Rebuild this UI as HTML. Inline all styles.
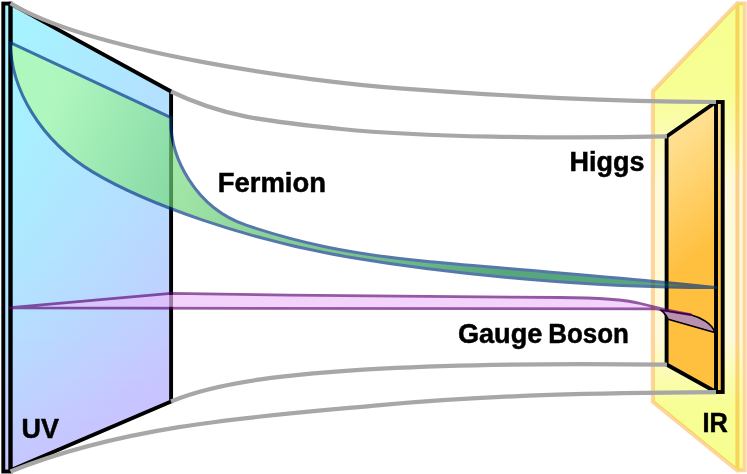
<!DOCTYPE html>
<html><head><meta charset="utf-8"><title>Warped extra dimension</title>
<style>
html,body{margin:0;padding:0;background:#fff;}
svg{display:block}
text{font-family:"Liberation Sans",sans-serif;font-weight:bold;fill:#000;stroke:#000;stroke-width:0.5px}
</style></head><body>
<svg width="747" height="474" viewBox="0 0 747 474">
<defs>
<linearGradient id="ir" gradientUnits="userSpaceOnUse" x1="0" y1="0" x2="0" y2="474">
<stop offset="0" stop-color="#f6ff90"/><stop offset="0.19" stop-color="#f7fe94"/><stop offset="0.29" stop-color="#fbfcb4"/><stop offset="0.39" stop-color="#fff9dc"/><stop offset="0.71" stop-color="#fff9dc"/><stop offset="0.79" stop-color="#fbfcb2"/><stop offset="0.86" stop-color="#f7fe94"/><stop offset="1" stop-color="#f6ff90"/></linearGradient>
<linearGradient id="br" gradientUnits="userSpaceOnUse" x1="667" y1="125" x2="740.8" y2="223.4">
<stop offset="0" stop-color="#ffe49b"/><stop offset="1" stop-color="#ffc040"/></linearGradient>
<linearGradient id="fg" gradientUnits="userSpaceOnUse" x1="60" y1="90" x2="505" y2="273">
<stop offset="0" stop-color="#b2fc9d"/><stop offset="0.263" stop-color="#78de7d"/><stop offset="1" stop-color="#027b3a"/></linearGradient>
<clipPath id="cuv"><rect x="0" y="1.65" width="200" height="471.8"/></clipPath>
<clipPath id="cpan"><rect x="600" y="1.2" width="147" height="471.3"/></clipPath>
<clipPath id="cir"><rect x="600" y="100.15" width="147" height="293.7"/></clipPath>
<linearGradient id="u0" gradientUnits="userSpaceOnUse" x1="11" y1="0" x2="171" y2="0"><stop offset="0.00" stop-color="#a6f3ff"/><stop offset="0.25" stop-color="#a9eeff"/><stop offset="0.50" stop-color="#adeaff"/><stop offset="0.75" stop-color="#b0e5ff"/><stop offset="1.00" stop-color="#b4e0ff"/></linearGradient>
<linearGradient id="u1" gradientUnits="userSpaceOnUse" x1="11" y1="0" x2="171" y2="0"><stop offset="0.00" stop-color="#a6f3ff"/><stop offset="0.25" stop-color="#a9eeff"/><stop offset="0.50" stop-color="#adeaff"/><stop offset="0.75" stop-color="#b0e5ff"/><stop offset="1.00" stop-color="#b4e0ff"/></linearGradient>
<linearGradient id="u2" gradientUnits="userSpaceOnUse" x1="11" y1="0" x2="171" y2="0"><stop offset="0.00" stop-color="#a6f3ff"/><stop offset="0.25" stop-color="#a9efff"/><stop offset="0.50" stop-color="#adeaff"/><stop offset="0.75" stop-color="#b0e5ff"/><stop offset="1.00" stop-color="#b4e0ff"/></linearGradient>
<linearGradient id="u3" gradientUnits="userSpaceOnUse" x1="11" y1="0" x2="171" y2="0"><stop offset="0.00" stop-color="#a6f3ff"/><stop offset="0.25" stop-color="#a9efff"/><stop offset="0.50" stop-color="#adeaff"/><stop offset="0.75" stop-color="#b0e5ff"/><stop offset="1.00" stop-color="#b4e0ff"/></linearGradient>
<linearGradient id="u4" gradientUnits="userSpaceOnUse" x1="11" y1="0" x2="171" y2="0"><stop offset="0.00" stop-color="#a6f3ff"/><stop offset="0.25" stop-color="#a9efff"/><stop offset="0.50" stop-color="#adeaff"/><stop offset="0.75" stop-color="#b0e5ff"/><stop offset="1.00" stop-color="#b4e0ff"/></linearGradient>
<linearGradient id="u5" gradientUnits="userSpaceOnUse" x1="11" y1="0" x2="171" y2="0"><stop offset="0.00" stop-color="#a6f3ff"/><stop offset="0.25" stop-color="#a9eeff"/><stop offset="0.50" stop-color="#adeaff"/><stop offset="0.75" stop-color="#b0e5ff"/><stop offset="1.00" stop-color="#b4e0ff"/></linearGradient>
<linearGradient id="u6" gradientUnits="userSpaceOnUse" x1="11" y1="0" x2="171" y2="0"><stop offset="0.00" stop-color="#a6f3ff"/><stop offset="0.25" stop-color="#a9eeff"/><stop offset="0.50" stop-color="#adeaff"/><stop offset="0.75" stop-color="#b0e5ff"/><stop offset="1.00" stop-color="#b4e0ff"/></linearGradient>
<linearGradient id="u7" gradientUnits="userSpaceOnUse" x1="11" y1="0" x2="171" y2="0"><stop offset="0.00" stop-color="#a6f3ff"/><stop offset="0.25" stop-color="#a9eeff"/><stop offset="0.50" stop-color="#ade9ff"/><stop offset="0.75" stop-color="#b0e5ff"/><stop offset="1.00" stop-color="#b4e0ff"/></linearGradient>
<linearGradient id="u8" gradientUnits="userSpaceOnUse" x1="11" y1="0" x2="171" y2="0"><stop offset="0.00" stop-color="#a6f3ff"/><stop offset="0.25" stop-color="#aaeeff"/><stop offset="0.50" stop-color="#ade9ff"/><stop offset="0.75" stop-color="#b1e4ff"/><stop offset="1.00" stop-color="#b4dfff"/></linearGradient>
<linearGradient id="u9" gradientUnits="userSpaceOnUse" x1="11" y1="0" x2="171" y2="0"><stop offset="0.00" stop-color="#a6f3ff"/><stop offset="0.25" stop-color="#aaeeff"/><stop offset="0.50" stop-color="#ade9ff"/><stop offset="0.75" stop-color="#b1e4ff"/><stop offset="1.00" stop-color="#b4dfff"/></linearGradient>
<linearGradient id="u10" gradientUnits="userSpaceOnUse" x1="11" y1="0" x2="171" y2="0"><stop offset="0.00" stop-color="#a7f2ff"/><stop offset="0.25" stop-color="#aaedff"/><stop offset="0.50" stop-color="#aee9ff"/><stop offset="0.75" stop-color="#b1e4ff"/><stop offset="1.00" stop-color="#b5dfff"/></linearGradient>
<linearGradient id="u11" gradientUnits="userSpaceOnUse" x1="11" y1="0" x2="171" y2="0"><stop offset="0.00" stop-color="#a7f2ff"/><stop offset="0.25" stop-color="#aaedff"/><stop offset="0.50" stop-color="#aee8ff"/><stop offset="0.75" stop-color="#b1e3ff"/><stop offset="1.00" stop-color="#b5dfff"/></linearGradient>
<linearGradient id="u12" gradientUnits="userSpaceOnUse" x1="11" y1="0" x2="171" y2="0"><stop offset="0.00" stop-color="#a7f1ff"/><stop offset="0.25" stop-color="#abedff"/><stop offset="0.50" stop-color="#aee8ff"/><stop offset="0.75" stop-color="#b2e3ff"/><stop offset="1.00" stop-color="#b5deff"/></linearGradient>
<linearGradient id="u13" gradientUnits="userSpaceOnUse" x1="11" y1="0" x2="171" y2="0"><stop offset="0.00" stop-color="#a7f1ff"/><stop offset="0.25" stop-color="#abecff"/><stop offset="0.50" stop-color="#aee7ff"/><stop offset="0.75" stop-color="#b2e3ff"/><stop offset="1.00" stop-color="#b5deff"/></linearGradient>
<linearGradient id="u14" gradientUnits="userSpaceOnUse" x1="11" y1="0" x2="171" y2="0"><stop offset="0.00" stop-color="#a8f1ff"/><stop offset="0.25" stop-color="#abecff"/><stop offset="0.50" stop-color="#afe7ff"/><stop offset="0.75" stop-color="#b2e2ff"/><stop offset="1.00" stop-color="#b6ddff"/></linearGradient>
<linearGradient id="u15" gradientUnits="userSpaceOnUse" x1="11" y1="0" x2="171" y2="0"><stop offset="0.00" stop-color="#a8f0ff"/><stop offset="0.25" stop-color="#acebff"/><stop offset="0.50" stop-color="#afe6ff"/><stop offset="0.75" stop-color="#b3e1ff"/><stop offset="1.00" stop-color="#b6ddff"/></linearGradient>
<linearGradient id="u16" gradientUnits="userSpaceOnUse" x1="11" y1="0" x2="171" y2="0"><stop offset="0.00" stop-color="#a9efff"/><stop offset="0.25" stop-color="#acebff"/><stop offset="0.50" stop-color="#b0e6ff"/><stop offset="0.75" stop-color="#b3e1ff"/><stop offset="1.00" stop-color="#b7dcff"/></linearGradient>
<linearGradient id="u17" gradientUnits="userSpaceOnUse" x1="11" y1="0" x2="171" y2="0"><stop offset="0.00" stop-color="#a9efff"/><stop offset="0.25" stop-color="#adeaff"/><stop offset="0.50" stop-color="#b0e5ff"/><stop offset="0.75" stop-color="#b4e0ff"/><stop offset="1.00" stop-color="#b7dbff"/></linearGradient>
<linearGradient id="u18" gradientUnits="userSpaceOnUse" x1="11" y1="0" x2="171" y2="0"><stop offset="0.00" stop-color="#aaeeff"/><stop offset="0.25" stop-color="#ade9ff"/><stop offset="0.50" stop-color="#b1e4ff"/><stop offset="0.75" stop-color="#b4dfff"/><stop offset="1.00" stop-color="#b8dbff"/></linearGradient>
<linearGradient id="u19" gradientUnits="userSpaceOnUse" x1="11" y1="0" x2="171" y2="0"><stop offset="0.00" stop-color="#aaedff"/><stop offset="0.25" stop-color="#aee8ff"/><stop offset="0.50" stop-color="#b1e4ff"/><stop offset="0.75" stop-color="#b5dfff"/><stop offset="1.00" stop-color="#b8daff"/></linearGradient>
<linearGradient id="u20" gradientUnits="userSpaceOnUse" x1="11" y1="0" x2="171" y2="0"><stop offset="0.00" stop-color="#abecff"/><stop offset="0.25" stop-color="#aee8ff"/><stop offset="0.50" stop-color="#b2e3ff"/><stop offset="0.75" stop-color="#b5deff"/><stop offset="1.00" stop-color="#b9d9ff"/></linearGradient>
<linearGradient id="u21" gradientUnits="userSpaceOnUse" x1="11" y1="0" x2="171" y2="0"><stop offset="0.00" stop-color="#abecff"/><stop offset="0.25" stop-color="#afe7ff"/><stop offset="0.50" stop-color="#b2e2ff"/><stop offset="0.75" stop-color="#b6ddff"/><stop offset="1.00" stop-color="#b9d8ff"/></linearGradient>
<linearGradient id="u22" gradientUnits="userSpaceOnUse" x1="11" y1="0" x2="171" y2="0"><stop offset="0.00" stop-color="#acebff"/><stop offset="0.25" stop-color="#b0e6ff"/><stop offset="0.50" stop-color="#b3e1ff"/><stop offset="0.75" stop-color="#b7dcff"/><stop offset="1.00" stop-color="#bad7ff"/></linearGradient>
<linearGradient id="u23" gradientUnits="userSpaceOnUse" x1="11" y1="0" x2="171" y2="0"><stop offset="0.00" stop-color="#adeaff"/><stop offset="0.25" stop-color="#b0e5ff"/><stop offset="0.50" stop-color="#b4e0ff"/><stop offset="0.75" stop-color="#b7dbff"/><stop offset="1.00" stop-color="#bbd6ff"/></linearGradient>
<linearGradient id="u24" gradientUnits="userSpaceOnUse" x1="11" y1="0" x2="171" y2="0"><stop offset="0.00" stop-color="#ade9ff"/><stop offset="0.25" stop-color="#b1e4ff"/><stop offset="0.50" stop-color="#b4dfff"/><stop offset="0.75" stop-color="#b8daff"/><stop offset="1.00" stop-color="#bbd5ff"/></linearGradient>
<linearGradient id="u25" gradientUnits="userSpaceOnUse" x1="11" y1="0" x2="171" y2="0"><stop offset="0.00" stop-color="#aee8ff"/><stop offset="0.25" stop-color="#b2e3ff"/><stop offset="0.50" stop-color="#b5deff"/><stop offset="0.75" stop-color="#b9d9ff"/><stop offset="1.00" stop-color="#bcd4ff"/></linearGradient>
<linearGradient id="u26" gradientUnits="userSpaceOnUse" x1="11" y1="0" x2="171" y2="0"><stop offset="0.00" stop-color="#afe7ff"/><stop offset="0.25" stop-color="#b2e2ff"/><stop offset="0.50" stop-color="#b6ddff"/><stop offset="0.75" stop-color="#b9d8ff"/><stop offset="1.00" stop-color="#bdd3ff"/></linearGradient>
<linearGradient id="u27" gradientUnits="userSpaceOnUse" x1="11" y1="0" x2="171" y2="0"><stop offset="0.00" stop-color="#b0e5ff"/><stop offset="0.25" stop-color="#b3e1ff"/><stop offset="0.50" stop-color="#b7dcff"/><stop offset="0.75" stop-color="#bad7ff"/><stop offset="1.00" stop-color="#bed2ff"/></linearGradient>
<linearGradient id="u28" gradientUnits="userSpaceOnUse" x1="11" y1="0" x2="171" y2="0"><stop offset="0.00" stop-color="#b1e4ff"/><stop offset="0.25" stop-color="#b4dfff"/><stop offset="0.50" stop-color="#b8dbff"/><stop offset="0.75" stop-color="#bbd6ff"/><stop offset="1.00" stop-color="#bfd1ff"/></linearGradient>
<linearGradient id="u29" gradientUnits="userSpaceOnUse" x1="11" y1="0" x2="171" y2="0"><stop offset="0.00" stop-color="#b2e3ff"/><stop offset="0.25" stop-color="#b5deff"/><stop offset="0.50" stop-color="#b9d9ff"/><stop offset="0.75" stop-color="#bcd5ff"/><stop offset="1.00" stop-color="#c0d0ff"/></linearGradient>
<linearGradient id="u30" gradientUnits="userSpaceOnUse" x1="11" y1="0" x2="171" y2="0"><stop offset="0.00" stop-color="#b2e2ff"/><stop offset="0.25" stop-color="#b6ddff"/><stop offset="0.50" stop-color="#b9d8ff"/><stop offset="0.75" stop-color="#bdd3ff"/><stop offset="1.00" stop-color="#c0ceff"/></linearGradient>
<linearGradient id="u31" gradientUnits="userSpaceOnUse" x1="11" y1="0" x2="171" y2="0"><stop offset="0.00" stop-color="#b3e0ff"/><stop offset="0.25" stop-color="#b7dcff"/><stop offset="0.50" stop-color="#bad7ff"/><stop offset="0.75" stop-color="#bed2ff"/><stop offset="1.00" stop-color="#c1cdff"/></linearGradient>
<linearGradient id="u32" gradientUnits="userSpaceOnUse" x1="11" y1="0" x2="171" y2="0"><stop offset="0.00" stop-color="#b4dfff"/><stop offset="0.25" stop-color="#b8daff"/><stop offset="0.50" stop-color="#bbd5ff"/><stop offset="0.75" stop-color="#bfd1ff"/><stop offset="1.00" stop-color="#c2ccff"/></linearGradient>
<linearGradient id="u33" gradientUnits="userSpaceOnUse" x1="11" y1="0" x2="171" y2="0"><stop offset="0.00" stop-color="#b6deff"/><stop offset="0.25" stop-color="#b9d9ff"/><stop offset="0.50" stop-color="#bcd4ff"/><stop offset="0.75" stop-color="#c0cfff"/><stop offset="1.00" stop-color="#c3caff"/></linearGradient>
<linearGradient id="u34" gradientUnits="userSpaceOnUse" x1="11" y1="0" x2="171" y2="0"><stop offset="0.00" stop-color="#b7dcff"/><stop offset="0.25" stop-color="#bad7ff"/><stop offset="0.50" stop-color="#bed2ff"/><stop offset="0.75" stop-color="#c1ceff"/><stop offset="1.00" stop-color="#c5c9ff"/></linearGradient>
<linearGradient id="u35" gradientUnits="userSpaceOnUse" x1="11" y1="0" x2="171" y2="0"><stop offset="0.00" stop-color="#b8dbff"/><stop offset="0.25" stop-color="#bbd6ff"/><stop offset="0.50" stop-color="#bfd1ff"/><stop offset="0.75" stop-color="#c2ccff"/><stop offset="1.00" stop-color="#c6c7ff"/></linearGradient>
<linearGradient id="u36" gradientUnits="userSpaceOnUse" x1="11" y1="0" x2="171" y2="0"><stop offset="0.00" stop-color="#b9d9ff"/><stop offset="0.25" stop-color="#bcd4ff"/><stop offset="0.50" stop-color="#c0cfff"/><stop offset="0.75" stop-color="#c3caff"/><stop offset="1.00" stop-color="#c7c6ff"/></linearGradient>
<linearGradient id="u37" gradientUnits="userSpaceOnUse" x1="11" y1="0" x2="171" y2="0"><stop offset="0.00" stop-color="#bad7ff"/><stop offset="0.25" stop-color="#bed2ff"/><stop offset="0.50" stop-color="#c1ceff"/><stop offset="0.75" stop-color="#c5c9ff"/><stop offset="1.00" stop-color="#c8c4ff"/></linearGradient>
<linearGradient id="u38" gradientUnits="userSpaceOnUse" x1="11" y1="0" x2="171" y2="0"><stop offset="0.00" stop-color="#bbd6ff"/><stop offset="0.25" stop-color="#bfd1ff"/><stop offset="0.50" stop-color="#c2ccff"/><stop offset="0.75" stop-color="#c6c7ff"/><stop offset="1.00" stop-color="#c8c4ff"/></linearGradient>
<linearGradient id="u39" gradientUnits="userSpaceOnUse" x1="11" y1="0" x2="171" y2="0"><stop offset="0.00" stop-color="#bcd4ff"/><stop offset="0.25" stop-color="#c0cfff"/><stop offset="0.50" stop-color="#c3caff"/><stop offset="0.75" stop-color="#c7c5ff"/><stop offset="1.00" stop-color="#c8c4ff"/></linearGradient>
<linearGradient id="u40" gradientUnits="userSpaceOnUse" x1="11" y1="0" x2="171" y2="0"><stop offset="0.00" stop-color="#bed2ff"/><stop offset="0.25" stop-color="#c1cdff"/><stop offset="0.50" stop-color="#c5c8ff"/><stop offset="0.75" stop-color="#c8c4ff"/><stop offset="1.00" stop-color="#c8c4ff"/></linearGradient>
<linearGradient id="u41" gradientUnits="userSpaceOnUse" x1="11" y1="0" x2="171" y2="0"><stop offset="0.00" stop-color="#bfd0ff"/><stop offset="0.25" stop-color="#c3cbff"/><stop offset="0.50" stop-color="#c6c7ff"/><stop offset="0.75" stop-color="#c8c4ff"/><stop offset="1.00" stop-color="#c8c4ff"/></linearGradient>
<linearGradient id="u42" gradientUnits="userSpaceOnUse" x1="11" y1="0" x2="171" y2="0"><stop offset="0.00" stop-color="#c0ceff"/><stop offset="0.25" stop-color="#c4caff"/><stop offset="0.50" stop-color="#c7c5ff"/><stop offset="0.75" stop-color="#c8c4ff"/><stop offset="1.00" stop-color="#c8c4ff"/></linearGradient>
<linearGradient id="u43" gradientUnits="userSpaceOnUse" x1="11" y1="0" x2="171" y2="0"><stop offset="0.00" stop-color="#c2cdff"/><stop offset="0.25" stop-color="#c5c8ff"/><stop offset="0.50" stop-color="#c8c4ff"/><stop offset="0.75" stop-color="#c8c4ff"/><stop offset="1.00" stop-color="#c8c4ff"/></linearGradient>
<linearGradient id="u44" gradientUnits="userSpaceOnUse" x1="11" y1="0" x2="171" y2="0"><stop offset="0.00" stop-color="#c3cbff"/><stop offset="0.25" stop-color="#c7c6ff"/><stop offset="0.50" stop-color="#c8c4ff"/><stop offset="0.75" stop-color="#c8c4ff"/><stop offset="1.00" stop-color="#c8c4ff"/></linearGradient>
<linearGradient id="u45" gradientUnits="userSpaceOnUse" x1="11" y1="0" x2="171" y2="0"><stop offset="0.00" stop-color="#c5c9ff"/><stop offset="0.25" stop-color="#c8c4ff"/><stop offset="0.50" stop-color="#c8c4ff"/><stop offset="0.75" stop-color="#c8c4ff"/><stop offset="1.00" stop-color="#c8c4ff"/></linearGradient>
<linearGradient id="u46" gradientUnits="userSpaceOnUse" x1="11" y1="0" x2="171" y2="0"><stop offset="0.00" stop-color="#c6c6ff"/><stop offset="0.25" stop-color="#c8c4ff"/><stop offset="0.50" stop-color="#c8c4ff"/><stop offset="0.75" stop-color="#c8c4ff"/><stop offset="1.00" stop-color="#c8c4ff"/></linearGradient>
<linearGradient id="u47" gradientUnits="userSpaceOnUse" x1="11" y1="0" x2="171" y2="0"><stop offset="0.00" stop-color="#c8c4ff"/><stop offset="0.25" stop-color="#c8c4ff"/><stop offset="0.50" stop-color="#c8c4ff"/><stop offset="0.75" stop-color="#c8c4ff"/><stop offset="1.00" stop-color="#c8c4ff"/></linearGradient>
<clipPath id="ctrap"><polygon points="10.5,3.6 171.1,91.5 171.1,401.5 10.5,470.2"/><rect x="3.3" y="3.6" width="7.2" height="467.9"/></clipPath>
</defs>
<rect width="747" height="474" fill="#fff"/>
<!-- IR panel -->
<polygon points="653.65,91.5 737.4,4.35 737.4,3.2 742.6,3.2 742.6,470.5 737.4,470.5 737.4,469.5 653.65,401.4" fill="url(#ir)"/>
<g fill="none" stroke="#fa8d00" stroke-opacity="0.37" stroke-width="4" clip-path="url(#cpan)">
<polygon points="652.85,91.2 737.4,3.2 737.4,470.5 652.85,401.8"/>
<polyline points="739.4,3.2 744.6,3.2 744.6,470.5 739.4,470.5"/>
</g>
<!-- UV brane -->
<g clip-path="url(#ctrap)">
<rect x="0" y="0" width="175" height="10.6" fill="url(#u0)"/>
<rect x="0" y="10" width="175" height="10.6" fill="url(#u1)"/>
<rect x="0" y="20" width="175" height="10.6" fill="url(#u2)"/>
<rect x="0" y="30" width="175" height="10.6" fill="url(#u3)"/>
<rect x="0" y="40" width="175" height="10.6" fill="url(#u4)"/>
<rect x="0" y="50" width="175" height="10.6" fill="url(#u5)"/>
<rect x="0" y="60" width="175" height="10.6" fill="url(#u6)"/>
<rect x="0" y="70" width="175" height="10.6" fill="url(#u7)"/>
<rect x="0" y="80" width="175" height="10.6" fill="url(#u8)"/>
<rect x="0" y="90" width="175" height="10.6" fill="url(#u9)"/>
<rect x="0" y="100" width="175" height="10.6" fill="url(#u10)"/>
<rect x="0" y="110" width="175" height="10.6" fill="url(#u11)"/>
<rect x="0" y="120" width="175" height="10.6" fill="url(#u12)"/>
<rect x="0" y="130" width="175" height="10.6" fill="url(#u13)"/>
<rect x="0" y="140" width="175" height="10.6" fill="url(#u14)"/>
<rect x="0" y="150" width="175" height="10.6" fill="url(#u15)"/>
<rect x="0" y="160" width="175" height="10.6" fill="url(#u16)"/>
<rect x="0" y="170" width="175" height="10.6" fill="url(#u17)"/>
<rect x="0" y="180" width="175" height="10.6" fill="url(#u18)"/>
<rect x="0" y="190" width="175" height="10.6" fill="url(#u19)"/>
<rect x="0" y="200" width="175" height="10.6" fill="url(#u20)"/>
<rect x="0" y="210" width="175" height="10.6" fill="url(#u21)"/>
<rect x="0" y="220" width="175" height="10.6" fill="url(#u22)"/>
<rect x="0" y="230" width="175" height="10.6" fill="url(#u23)"/>
<rect x="0" y="240" width="175" height="10.6" fill="url(#u24)"/>
<rect x="0" y="250" width="175" height="10.6" fill="url(#u25)"/>
<rect x="0" y="260" width="175" height="10.6" fill="url(#u26)"/>
<rect x="0" y="270" width="175" height="10.6" fill="url(#u27)"/>
<rect x="0" y="280" width="175" height="10.6" fill="url(#u28)"/>
<rect x="0" y="290" width="175" height="10.6" fill="url(#u29)"/>
<rect x="0" y="300" width="175" height="10.6" fill="url(#u30)"/>
<rect x="0" y="310" width="175" height="10.6" fill="url(#u31)"/>
<rect x="0" y="320" width="175" height="10.6" fill="url(#u32)"/>
<rect x="0" y="330" width="175" height="10.6" fill="url(#u33)"/>
<rect x="0" y="340" width="175" height="10.6" fill="url(#u34)"/>
<rect x="0" y="350" width="175" height="10.6" fill="url(#u35)"/>
<rect x="0" y="360" width="175" height="10.6" fill="url(#u36)"/>
<rect x="0" y="370" width="175" height="10.6" fill="url(#u37)"/>
<rect x="0" y="380" width="175" height="10.6" fill="url(#u38)"/>
<rect x="0" y="390" width="175" height="10.6" fill="url(#u39)"/>
<rect x="0" y="400" width="175" height="10.6" fill="url(#u40)"/>
<rect x="0" y="410" width="175" height="10.6" fill="url(#u41)"/>
<rect x="0" y="420" width="175" height="10.6" fill="url(#u42)"/>
<rect x="0" y="430" width="175" height="10.6" fill="url(#u43)"/>
<rect x="0" y="440" width="175" height="10.6" fill="url(#u44)"/>
<rect x="0" y="450" width="175" height="10.6" fill="url(#u45)"/>
<rect x="0" y="460" width="175" height="10.6" fill="url(#u46)"/>
<rect x="0" y="470" width="175" height="10.6" fill="url(#u47)"/>
</g>
<rect x="3.3" y="3.6" width="7.2" height="467.9" fill="none" stroke="#000" stroke-width="3.9"/>
<polygon clip-path="url(#cuv)" points="10.5,3.6 171.1,91.5 171.1,401.5 10.5,470.2" fill="none" stroke="#000" stroke-width="3.9" stroke-linejoin="miter"/>
<!-- IR brane -->
<rect x="716" y="102" width="6.7" height="290" fill="url(#br)" stroke="#000" stroke-width="3.9"/>
<polygon clip-path="url(#cir)" points="716,102 666.6,136.5 666.6,364.5 716,392" fill="url(#br)" stroke="#000" stroke-width="3.9" stroke-linejoin="miter"/>
<g fill="none" stroke="#a7a7a7" stroke-width="4.2">
<path d="M10.5,3.2 C91.1,52.2 307.2,81.6 399.8,88.3 C517.2,96.8 605.6,101.3 716.0,102.0"/>
<path d="M171.0,91.5 C221.3,115.8 261.5,120.9 341.2,129.0 C421.9,137.1 557.5,138.9 667.0,136.4"/>
<path d="M171.0,401.5 C216.9,382.2 288.9,373.6 381.4,368.7 C462.8,364.3 570.0,363.5 667.0,364.7"/>
<path d="M10.5,471.5 C128.3,424.2 261.9,415.9 380.2,405.1 C497.5,394.5 602.8,392.8 716.0,392.1"/>
</g>
<!-- Higgs -->
<path d="M660.6,310 L690.6,314.7 C700,317.2 712.5,323.5 714.7,332.5 L668.1,319.3 C666.5,316 664.5,312.5 660.6,310 Z" fill="#b991af" stroke="#000" stroke-width="1.7" stroke-linejoin="round"/>
<!-- Fermion -->
<path d="M10.3,42.7 L171,117.7 C169.2,156.7 195.5,208.1 246.2,225.2 C294.2,241.4 347.2,254.1 429.9,261.7 C511.4,269.2 614.6,276.6 716.0,287.6 C592.1,287.9 452.3,274.6 349.7,257.3 C247.2,239.9 145.9,203.8 93.4,172.4 C39.1,139.9 11,88.1 10.3,42.7 Z" fill="url(#fg)" stroke="#00327e" opacity="0.66" stroke-width="3" stroke-linejoin="round"/>
<!-- Gauge boson -->
<path d="M10.5,307.7 L171,293.4 C300,295.5 420,296.7 560,297.5 C600,297.8 625,299.5 640.3,303.5 C652,306.6 670,311 690.6,314.7 L656,308.9 L10.5,307.9 Z" fill="#edbbfa" stroke="#5b0072" opacity="0.65" stroke-width="2.8" stroke-linejoin="round"/>
<!-- labels -->
<text x="217.8" y="191.6" font-size="27" textLength="108.2" lengthAdjust="spacingAndGlyphs">Fermion</text>
<text x="569.5" y="171.4" font-size="27" textLength="74.9" lengthAdjust="spacingAndGlyphs">Higgs</text>
<text y="342.9" font-size="27"><tspan x="457.9" textLength="92" lengthAdjust="spacingAndGlyphs">Gauge </tspan><tspan x="548.2" textLength="80.6" lengthAdjust="spacingAndGlyphs">Boson</tspan></text>
<text x="21.6" y="437.5" font-size="27" textLength="37.4" lengthAdjust="spacingAndGlyphs">UV</text>
<text x="702.4" y="431.7" font-size="27" textLength="25.3" lengthAdjust="spacingAndGlyphs">IR</text>
</svg>
</body></html>
